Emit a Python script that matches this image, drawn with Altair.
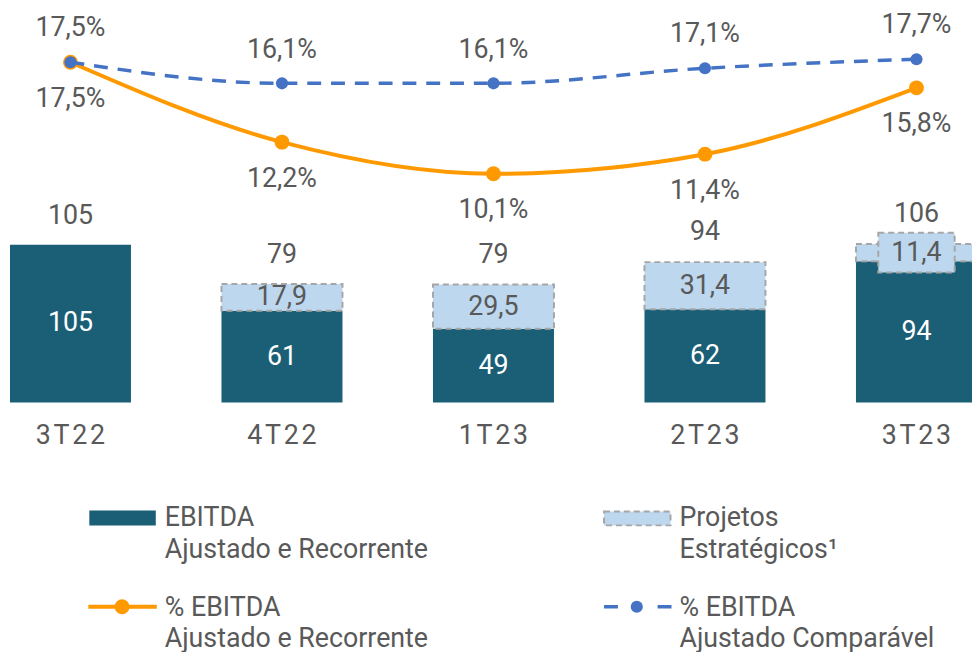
import altair as alt
import pandas as pd

# ---- data ----
trimestres = ["3T22", "4T22", "1T23", "2T23", "3T23"]
ebitda = [105, 61, 49, 62, 94]
projetos = [0, 17.9, 29.5, 31.4, 11.4]
totais = [105, 79, 79, 94, 106]
pct_recorrente = [17.5, 12.2, 10.1, 11.4, 15.8]
pct_comparavel = [17.5, 16.1, 16.1, 17.1, 17.7]

TEAL = "#1B5F77"
LIGHT = "#BDD7EE"
GRAY_DASH = "#A6A6A6"
ORANGE = "#FF9900"
BLUE = "#4472C4"
TXT = "#595959"
FONT = "Roboto"
FS = 27


def br(v):
    s = f"{v:.1f}".replace(".", ",")
    return s


df = pd.DataFrame({
    "tri": trimestres,
    "tri_lbl": ["\u200a".join(list(t)) for t in trimestres],
    "ebitda": ebitda,
    "proj": projetos,
    "total": totais,
    "rec": pct_recorrente,
    "comp": pct_comparavel,
})
df["topo"] = df["ebitda"] + df["proj"]
df["mid_e"] = df["ebitda"] / 2
df["mid_p"] = df["ebitda"] + df["proj"] / 2
df["ebitda_lbl"] = df["ebitda"].astype(int).astype(str)
df["proj_lbl"] = df["proj"].map(br)
df["total_lbl"] = df["total"].astype(int).astype(str)
df["rec_lbl"] = df["rec"].map(br) + "%"
df["comp_lbl"] = df["comp"].map(br) + "%"

W, H = 972, 644

xs = alt.Scale(domain=trimestres, range=[2, 977], paddingInner=0.428, paddingOuter=0)
X = alt.X("tri:N", scale=xs, axis=None, sort=trimestres)
ybar = alt.Scale(domain=[0, 105], range=[395, 236], nice=False, zero=False)
ypct = alt.Scale(domain=[10, 17.5], range=[166, 52], nice=False, zero=False)

base = alt.Chart(df)
proj_df = base.transform_filter("datum.proj > 0")

bars_e = base.mark_bar(color=TEAL, size=122).encode(
    x=X, y=alt.Y("ebitda:Q", scale=ybar, axis=None), y2=alt.Y2(datum=0))
bars_p = proj_df.mark_bar(size=122, fill=LIGHT, stroke=GRAY_DASH, strokeWidth=2,
                          strokeDash=[6, 4]).encode(
    x=X, y=alt.Y("topo:Q", scale=ybar, axis=None), y2="ebitda:Q")
# label box where the segment is too thin for its label
box_p = base.transform_filter("datum.proj > 0 && datum.proj < 15").mark_bar(
    size=77, fill=LIGHT, stroke=GRAY_DASH, strokeWidth=2, strokeDash=[6, 4],
    yOffset=-20, y2Offset=20).encode(
    x=X, y=alt.Y("mid_p:Q", scale=ybar, axis=None), y2="mid_p:Q")

txt = dict(font=FONT, fontSize=FS, baseline="middle", align="center")
lbl_e = base.mark_text(color="white", **txt).encode(
    x=X, y=alt.Y("mid_e:Q", scale=ybar, axis=None), text="ebitda_lbl:N")
lbl_p = proj_df.mark_text(color=TXT, **txt).encode(
    x=X, y=alt.Y("mid_p:Q", scale=ybar, axis=None), text="proj_lbl:N")
lbl_t = base.mark_text(color=TXT, dy=-29, **txt).encode(
    x=X, y=alt.Y("total:Q", scale=ybar, axis=None), text="total_lbl:N")

line_r = base.mark_line(color=ORANGE, strokeWidth=4, interpolate="monotone").encode(
    x=X, y=alt.Y("rec:Q", scale=ypct, axis=None))
pts_r = base.mark_point(color=ORANGE, filled=True, opacity=1, size=225).encode(
    x=X, y=alt.Y("rec:Q", scale=ypct, axis=None))
line_c = base.mark_line(color=BLUE, strokeWidth=3.5, strokeDash=[14, 10],
                        interpolate="monotone").encode(
    x=X, y=alt.Y("comp:Q", scale=ypct, axis=None))
pts_c = base.mark_point(color=BLUE, filled=True, opacity=1, size=150).encode(
    x=X, y=alt.Y("comp:Q", scale=ypct, axis=None))
lbl_r = base.mark_text(color=TXT, dy=37, **txt).encode(
    x=X, y=alt.Y("rec:Q", scale=ypct, axis=None), text="rec_lbl:N")
lbl_c = base.mark_text(color=TXT, dy=-34, **txt).encode(
    x=X, y=alt.Y("comp:Q", scale=ypct, axis=None), text="comp_lbl:N")

axis_lbl = base.mark_text(color=TXT, **txt).encode(
    x=X, y=alt.value(429), text="tri_lbl:N")

# ---- legend ----
one = alt.Chart(pd.DataFrame({"k": [0]}))
ltxt = dict(font=FONT, fontSize=FS, baseline="middle", align="left", color=TXT)


def legend_text(x, y, s):
    return one.mark_text(text=s, **ltxt).encode(x=alt.value(x), y=alt.value(y))


leg = [
    one.mark_rect(color=TEAL).encode(x=alt.value(82), x2=alt.value(149),
                                     y=alt.value(504), y2=alt.value(519)),
    legend_text(158, 512, "EBITDA"),
    legend_text(158, 544, "Ajustado e Recorrente"),
    one.mark_rect(fill=LIGHT, stroke=GRAY_DASH, strokeWidth=2, strokeDash=[6, 4]).encode(
        x=alt.value(601), x2=alt.value(668), y=alt.value(505), y2=alt.value(519)),
    legend_text(677, 512, "Projetos"),
    legend_text(677, 544, "Estratégicos¹"),
    one.mark_rule(color=ORANGE, strokeWidth=4).encode(
        x=alt.value(81), x2=alt.value(150), y=alt.value(601)),
    one.mark_point(color=ORANGE, filled=True, opacity=1, size=225).encode(
        x=alt.value(115), y=alt.value(601)),
    legend_text(158, 602, "% EBITDA"),
    legend_text(158, 634, "Ajustado e Recorrente"),
    one.mark_rule(color=BLUE, strokeWidth=3.5, strokeDash=[14, 40]).encode(
        x=alt.value(601), x2=alt.value(669), y=alt.value(601)),
    one.mark_point(color=BLUE, filled=True, opacity=1, size=150).encode(
        x=alt.value(634), y=alt.value(601)),
    legend_text(677, 602, "% EBITDA"),
    legend_text(677, 634, "Ajustado Comparável"),
]

chart = alt.layer(
    bars_e, bars_p, box_p, lbl_e, lbl_p, lbl_t,
    line_r, pts_r, line_c, pts_c, lbl_r, lbl_c, axis_lbl, *leg
).resolve_scale(y="independent").properties(
    width=W, height=H, padding=0,
    autosize=alt.AutoSizeParams(type="none"),
).configure_view(stroke=None)

chart.save("out.html", embed_options={"renderer": "svg", "actions": False})
